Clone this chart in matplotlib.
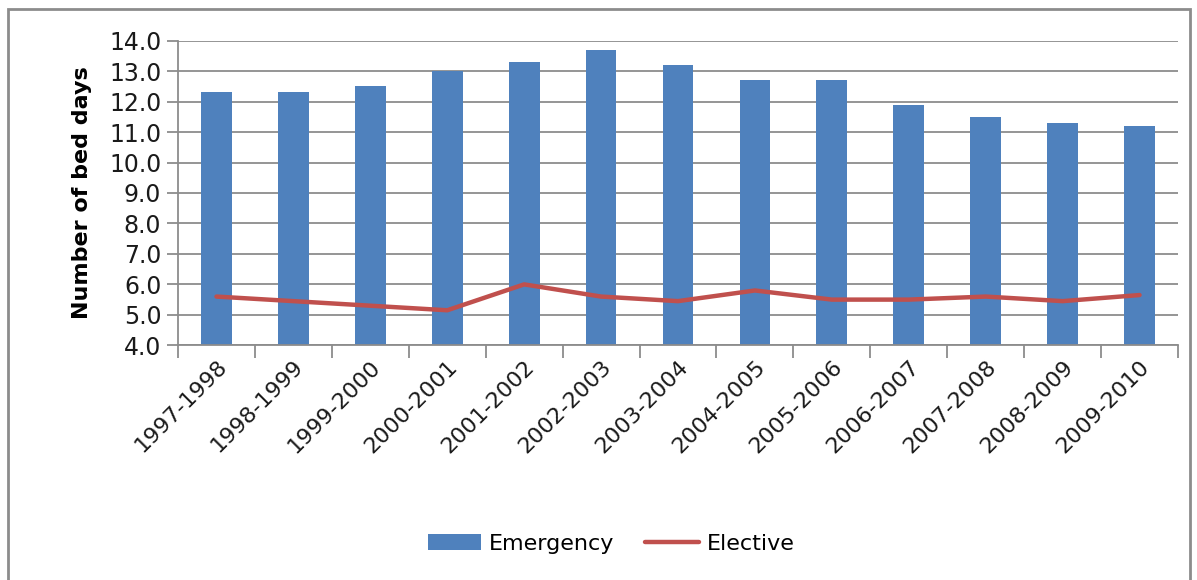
import matplotlib
matplotlib.use("Agg")
import matplotlib.pyplot as plt
from matplotlib.patches import Rectangle
import numpy as np

categories = ["1997-1998", "1998-1999", "1999-2000", "2000-2001", "2001-2002",
              "2002-2003", "2003-2004", "2004-2005", "2005-2006", "2006-2007",
              "2007-2008", "2008-2009", "2009-2010"]
emergency = [12.3, 12.3, 12.5, 13.0, 13.3, 13.7, 13.2, 12.7, 12.7, 11.9, 11.5, 11.3, 11.2]
elective = [5.6, 5.45, 5.3, 5.15, 6.0, 5.6, 5.45, 5.8, 5.5, 5.5, 5.6, 5.45, 5.65]
yticks = [4.0, 5.0, 6.0, 7.0, 8.0, 9.0, 10.0, 11.0, 12.0, 13.0, 14.0]

plt.rcParams['font.family'] = ['DejaVu Sans']
FS = 16
W, H = 1197, 580
fig = plt.figure(figsize=(W / 100, H / 100), dpi=100)

# outer frame
fig.patches.append(Rectangle((8 / W, -0.02), (1190 - 8) / W, 1 - 9 / H + 0.02,
                             transform=fig.transFigure, fill=False,
                             edgecolor="#8c8c8c", linewidth=2.0, zorder=0))

left, right, top, bottom = 178, 1178, 40.7, 345.3
ax = fig.add_axes([left / W, 1 - bottom / H, (right - left) / W, (bottom - top) / H])

x = np.arange(len(categories))
grid_c = "#8c8c8c"
bars = ax.bar(x, [v - 4.0 for v in emergency], bottom=4.0, width=0.4, color="#4F81BD",
              label="Emergency", zorder=2)
line, = ax.plot(x, elective, color="#C0504D", linewidth=3.2, label="Elective", zorder=3,
                solid_capstyle="round")

ax.set_xlim(-0.5, len(categories) - 0.5)
ax.set_ylim(4.0, 14.0)
ax.set_yticks(yticks)
ax.set_yticklabels([f"{v:.1f}" for v in yticks], fontsize=FS + 1, color="#1a1a1a")
ax.yaxis.grid(True, color=grid_c, linewidth=1.3, zorder=0)
ax.set_axisbelow(True)

# x ticks at category boundaries, labels at centres
ax.set_xticks(np.arange(-0.5, len(categories), 1.0))
ax.set_xticklabels([])
ax.set_xticks(x, minor=True)
ax.set_xticklabels(categories, minor=True, rotation=45, ha="right",
                   rotation_mode="anchor", fontsize=FS, color="#1a1a1a")
ax.tick_params(axis="x", which="minor", length=0, pad=8)
ax.tick_params(axis="x", which="major", length=9, width=1.3, color=grid_c)
ax.tick_params(axis="y", length=8, width=1.3, color=grid_c, pad=4)

for s in ["top", "right"]:
    ax.spines[s].set_visible(False)
for s in ["left", "bottom"]:
    ax.spines[s].set_color(grid_c)
    ax.spines[s].set_linewidth(1.3)

ax.set_ylabel("Number of bed days", fontsize=FS, fontweight="bold", labelpad=12)

fig.legend([bars, line], ["Emergency", "Elective"], loc="center",
           bbox_to_anchor=(611 / W, 1 - 544 / H), ncol=2,
           frameon=False, fontsize=FS, handlelength=2.4, columnspacing=1.4,
           handletextpad=0.35)

fig.savefig("out.png", dpi=100)
